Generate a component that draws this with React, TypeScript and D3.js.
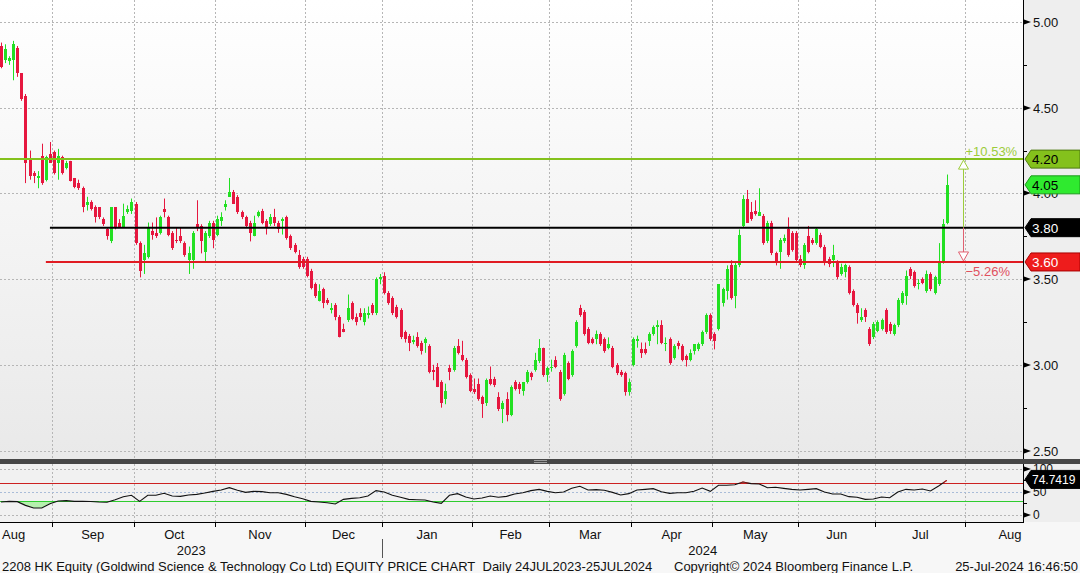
import { useRef, useEffect } from 'react'
import * as d3 from 'd3'

const WIDTH = 1080
const HEIGHT = 573
const AXIS_X = 1023
const PRICE_H = 459
const RSI_TOP = 464
const RSI_BOTTOM = 522
const FONT = '"Liberation Sans", Arial, sans-serif'

// HKEX sessions: first visible session + exchange holidays in the window
const FIRST_SESSION = '2023-08-15'
const HOLIDAYS = [
  '2023-09-29', '2023-10-02', '2023-10-23', '2023-12-25', '2023-12-26',
  '2024-01-01', '2024-02-12', '2024-02-13', '2024-03-29', '2024-04-01',
  '2024-04-04', '2024-05-01', '2024-05-15', '2024-06-10', '2024-07-01',
]
// visible window in sessions, relative to FIRST_SESSION
const VIEW = [-0.25, 250.7]

// daily OHLC, one entry per session from FIRST_SESSION to 25 Jul 2024
const OPEN = [
  4.86, 4.78, 4.77, 4.78, 4.85, 4.70, 4.57, 4.20, 4.12, 4.09, 4.22, 4.08, 4.23, 4.24, 4.18, 4.21, 4.15, 4.19, 4.09, 4.06,
  4.03, 3.93, 3.95, 3.92, 3.92, 3.85, 3.79, 3.72, 3.92, 3.83, 3.80, 3.89, 3.90, 3.94, 3.71, 3.61, 3.63, 3.78, 3.77, 3.77,
  3.91, 3.86, 3.77, 3.73, 3.75, 3.71, 3.61, 3.61, 3.82, 3.81, 3.66, 3.75, 3.83, 3.76, 3.84, 3.92, 3.98, 4.01, 3.98, 3.89,
  3.86, 3.83, 3.75, 3.87, 3.90, 3.84, 3.82, 3.86, 3.83, 3.84, 3.86, 3.75, 3.70, 3.64, 3.62, 3.62, 3.55, 3.47, 3.37, 3.44,
  3.38, 3.32, 3.35, 3.28, 3.21, 3.26, 3.36, 3.28, 3.30, 3.25, 3.29, 3.35, 3.30, 3.50, 3.52, 3.42, 3.39, 3.34, 3.32, 3.19,
  3.17, 3.135, 3.16, 3.13, 3.125, 3.11, 2.97, 2.99, 2.90, 2.80, 2.98, 2.97, 3.11, 3.06, 3.03, 2.94, 2.86, 2.89, 2.81, 2.78,
  2.92, 2.92, 2.81, 2.74, 2.80, 2.71, 2.90, 2.89, 2.85, 2.90, 2.95, 2.97, 3.02, 3.10, 2.94, 2.98, 3.03, 2.96, 2.83, 3.01,
  2.94, 3.11, 3.33, 3.31, 3.21, 3.15, 3.15, 3.18, 3.15, 3.10, 3.10, 3.00, 2.96, 2.95, 2.84, 3.00, 3.14, 3.09, 3.09, 3.14,
  3.18, 3.22, 3.23, 3.12, 3.15, 3.04, 3.13, 3.11, 3.05, 3.03, 3.08, 3.09, 3.12, 3.19, 3.29, 3.18, 3.21, 3.36, 3.43, 3.58,
  3.40, 3.58, 3.81, 3.97, 3.89, 3.90, 3.87, 3.87, 3.72, 3.83, 3.65, 3.66, 3.72, 3.79, 3.77, 3.77, 3.62, 3.58, 3.75, 3.73,
  3.71, 3.76, 3.69, 3.62, 3.61, 3.60, 3.53, 3.54, 3.57, 3.43, 3.35, 3.26, 3.32, 3.21, 3.16, 3.20, 3.21, 3.32, 3.24, 3.18,
  3.23, 3.36, 3.40, 3.56, 3.54, 3.47, 3.50, 3.43, 3.53, 3.42, 3.47, 3.60, 3.83,
]
const HIGH = [
  4.88, 4.87, 4.80, 4.89, 4.86, 4.70, 4.58, 4.25, 4.13, 4.13, 4.29, 4.22, 4.30, 4.25, 4.26, 4.22, 4.19, 4.19, 4.09, 4.08,
  4.04, 3.98, 3.96, 3.93, 3.92, 3.86, 3.80, 3.92, 3.92, 3.85, 3.94, 3.93, 3.97, 3.95, 3.72, 3.70, 3.83, 3.83, 3.86, 3.87,
  3.97, 3.87, 3.78, 3.80, 3.80, 3.72, 3.69, 3.78, 3.96, 3.82, 3.78, 3.84, 3.84, 3.87, 3.89, 3.96, 4.09, 4.02, 3.99, 3.90,
  3.87, 3.84, 3.87, 3.90, 3.91, 3.85, 3.88, 3.91, 3.84, 3.86, 3.87, 3.76, 3.71, 3.67, 3.63, 3.63, 3.56, 3.48, 3.47, 3.45,
  3.39, 3.36, 3.36, 3.29, 3.24, 3.41, 3.37, 3.30, 3.33, 3.33, 3.34, 3.36, 3.51, 3.53, 3.54, 3.43, 3.40, 3.35, 3.33, 3.20,
  3.18, 3.17, 3.19, 3.14, 3.16, 3.12, 3.00, 3.01, 2.91, 2.89, 3.00, 3.11, 3.15, 3.14, 3.04, 2.95, 2.92, 2.92, 2.82, 2.92,
  2.99, 2.93, 2.84, 2.79, 2.84, 2.88, 2.91, 2.90, 2.90, 2.97, 2.96, 3.07, 3.15, 3.10, 2.99, 3.03, 3.05, 2.97, 3.07, 3.02,
  3.09, 3.26, 3.35, 3.32, 3.22, 3.16, 3.20, 3.19, 3.16, 3.16, 3.11, 3.01, 2.97, 2.96, 2.92, 3.16, 3.17, 3.13, 3.13, 3.19,
  3.23, 3.26, 3.26, 3.16, 3.16, 3.12, 3.14, 3.12, 3.06, 3.09, 3.12, 3.13, 3.20, 3.30, 3.30, 3.19, 3.47, 3.45, 3.58, 3.61,
  3.60, 3.79, 3.99, 4.02, 3.95, 3.96, 4.03, 3.88, 3.84, 3.84, 3.66, 3.74, 3.76, 3.86, 3.78, 3.78, 3.64, 3.71, 3.81, 3.74,
  3.80, 3.77, 3.70, 3.63, 3.70, 3.61, 3.59, 3.59, 3.58, 3.44, 3.36, 3.33, 3.33, 3.22, 3.25, 3.26, 3.27, 3.33, 3.25, 3.24,
  3.39, 3.43, 3.55, 3.57, 3.55, 3.50, 3.51, 3.55, 3.54, 3.52, 3.71, 3.85, 4.11,
]
const LOW = [
  4.73, 4.76, 4.75, 4.66, 4.68, 4.54, 4.06, 4.08, 4.06, 4.03, 4.05, 4.07, 4.18, 4.11, 4.08, 4.11, 4.14, 4.07, 4.03, 4.02,
  3.89, 3.90, 3.90, 3.83, 3.85, 3.81, 3.73, 3.71, 3.79, 3.80, 3.80, 3.88, 3.88, 3.70, 3.51, 3.53, 3.62, 3.73, 3.74, 3.76,
  3.86, 3.75, 3.67, 3.71, 3.71, 3.63, 3.53, 3.56, 3.78, 3.65, 3.60, 3.74, 3.68, 3.75, 3.81, 3.90, 3.98, 3.94, 3.88, 3.85,
  3.80, 3.72, 3.75, 3.86, 3.82, 3.76, 3.81, 3.81, 3.77, 3.76, 3.73, 3.67, 3.65, 3.56, 3.56, 3.51, 3.44, 3.39, 3.37, 3.33,
  3.35, 3.30, 3.26, 3.16, 3.19, 3.25, 3.26, 3.23, 3.26, 3.23, 3.27, 3.29, 3.29, 3.47, 3.41, 3.35, 3.29, 3.27, 3.15, 3.13,
  3.08, 3.12, 3.10, 3.06, 3.07, 2.95, 2.91, 2.87, 2.75, 2.77, 2.91, 2.96, 3.06, 3.02, 2.92, 2.84, 2.83, 2.79, 2.69, 2.76,
  2.88, 2.87, 2.73, 2.66, 2.67, 2.70, 2.85, 2.83, 2.82, 2.89, 2.91, 2.96, 3.01, 2.93, 2.90, 2.96, 2.98, 2.79, 2.82, 2.91,
  2.93, 3.10, 3.28, 3.17, 3.12, 3.12, 3.12, 3.11, 3.07, 3.09, 2.98, 2.94, 2.93, 2.82, 2.82, 2.99, 3.10, 3.04, 3.06, 3.11,
  3.17, 3.12, 3.12, 3.08, 3.00, 3.03, 3.09, 3.02, 2.99, 3.02, 3.06, 3.08, 3.11, 3.18, 3.14, 3.09, 3.20, 3.34, 3.38, 3.38,
  3.33, 3.57, 3.80, 3.83, 3.84, 3.87, 3.87, 3.70, 3.71, 3.64, 3.58, 3.56, 3.71, 3.63, 3.66, 3.60, 3.57, 3.56, 3.65, 3.70,
  3.70, 3.68, 3.58, 3.57, 3.57, 3.50, 3.52, 3.51, 3.41, 3.34, 3.24, 3.25, 3.25, 3.11, 3.15, 3.19, 3.20, 3.18, 3.18, 3.17,
  3.22, 3.35, 3.35, 3.50, 3.45, 3.44, 3.47, 3.42, 3.43, 3.41, 3.46, 3.59, 3.82,
]
const CLOSE = [
  4.74, 4.84, 4.79, 4.87, 4.70, 4.55, 4.18, 4.10, 4.10, 4.10, 4.06, 4.21, 4.18, 4.12, 4.22, 4.12, 4.18, 4.07, 4.04, 4.03,
  3.92, 3.95, 3.91, 3.86, 3.86, 3.82, 3.75, 3.92, 3.80, 3.80, 3.87, 3.91, 3.95, 3.71, 3.55, 3.65, 3.80, 3.76, 3.75, 3.86,
  3.89, 3.76, 3.68, 3.72, 3.72, 3.64, 3.65, 3.77, 3.80, 3.72, 3.77, 3.83, 3.73, 3.85, 3.86, 3.94, 4.01, 3.94, 3.89, 3.86,
  3.81, 3.77, 3.83, 3.89, 3.83, 3.80, 3.86, 3.83, 3.79, 3.85, 3.74, 3.68, 3.66, 3.57, 3.57, 3.52, 3.45, 3.40, 3.43, 3.36,
  3.36, 3.33, 3.28, 3.16, 3.19, 3.33, 3.27, 3.25, 3.28, 3.30, 3.30, 3.30, 3.50, 3.51, 3.42, 3.36, 3.30, 3.28, 3.16, 3.15,
  3.13, 3.145, 3.11, 3.08, 3.15, 2.96, 2.96, 2.87, 2.78, 2.85, 2.96, 3.10, 3.07, 3.03, 2.93, 2.85, 2.84, 2.80, 2.77, 2.91,
  2.89, 2.88, 2.74, 2.78, 2.71, 2.87, 2.86, 2.86, 2.90, 2.96, 2.93, 3.03, 3.10, 2.94, 2.98, 2.99, 2.99, 2.80, 3.06, 2.92,
  3.08, 3.25, 3.29, 3.18, 3.13, 3.13, 3.18, 3.12, 3.08, 3.12, 2.99, 2.95, 2.94, 2.84, 2.90, 3.15, 3.15, 3.07, 3.07, 3.18,
  3.22, 3.23, 3.13, 3.13, 3.01, 3.11, 3.11, 3.03, 3.03, 3.07, 3.12, 3.12, 3.19, 3.29, 3.15, 3.14, 3.47, 3.44, 3.56, 3.39,
  3.58, 3.76, 3.97, 3.83, 3.85, 3.88, 3.89, 3.71, 3.83, 3.65, 3.60, 3.73, 3.74, 3.64, 3.67, 3.61, 3.58, 3.70, 3.66, 3.71,
  3.79, 3.69, 3.60, 3.59, 3.64, 3.51, 3.57, 3.58, 3.42, 3.35, 3.30, 3.28, 3.28, 3.12, 3.24, 3.25, 3.26, 3.19, 3.20, 3.23,
  3.38, 3.42, 3.52, 3.52, 3.46, 3.48, 3.48, 3.53, 3.44, 3.51, 3.60, 3.82, 4.05,
]

// RSI (14), one reading every RSI_STEP sessions
const RSI_STEP = 2
const RSI = [
  28, 29.5, 28.8, 20.8, 15.1, 15.1, 24.5, 30.2, 31, 29.5, 29.5, 29, 28, 27.5, 33.1, 39.6, 42.5, 29.5, 42.5, 42.5,
  46.8, 41, 40.3, 43.2, 44.6, 47.5, 51.1, 54, 59, 53.3, 48.9, 51.1, 50.4, 48.2, 48.2, 44.6, 39.6, 35.3, 29.5, 28.1,
  26.6, 23.8, 33.8, 36, 37.4, 41, 52.6, 49.7, 42.5, 38.2, 33.8, 33.1, 32.4, 28.1, 25.2, 42.5, 46.1, 38.9, 34.6, 36.7,
  41, 38.2, 40.3, 45.3, 48.2, 52.6, 55.4, 51.1, 48.2, 49.7, 57.6, 61.9, 54, 54.7, 53.3, 48.9, 43.2, 46.1, 54, 55.4,
  56.9, 50.4, 46.8, 48.2, 48.2, 51.1, 58.3, 51.1, 64.1, 64.1, 65.5, 71.3, 67.7, 67, 59, 59.8, 57.6, 55.4, 54, 55.4,
  56.9, 49.7, 45.3, 45.3, 39.6, 38.2, 33.8, 34.6, 38.9, 37.4, 49.7, 55.4, 54, 56.2, 51.8, 62.6, 74.7419,
]
const RSI_OVERSOLD = 30
const RSI_OVERBOUGHT = 70

const PRICE_TICKS = [2.5, 3, 3.5, 4, 4.5, 5]
const PRICE_MINOR = [2.75, 3.25, 3.75, 4.25, 4.75]
const RSI_TICKS = [0, 50, 100]

// drawn levels
const LEVEL_HIGH = 4.2
const LEVEL_REF = 3.8
const LEVEL_LOW = 3.6
const LEVEL_REF_FROM = '2023-08-31'
const LEVEL_LOW_FROM = '2023-08-30'
const TARGET_SESSION = '2024-07-31'

const FOOTER_LEFT = '2208 HK Equity (Goldwind Science & Technology Co Ltd) EQUITY PRICE CHART\u00a0 Daily 24JUL2023-25JUL2024'
const FOOTER_MID = 'Copyright\u00a9 2024 Bloomberg Finance L.P.'
const FOOTER_RIGHT = '25-Jul-2024 16:46:50'

const UP = '#22e022'
const DOWN = '#e6173f'
const LIME = '#84c11c'
const RED = '#e01b22'

export default function App() {
  const svgRef = useRef<SVGSVGElement>(null)

  useEffect(() => {
    if (!svgRef.current) return
    const svg = d3.select(svgRef.current)
    svg.selectAll('*').remove()

    const fmt = d3.timeFormat('%Y-%m-%d')
    const hol = new Set(HOLIDAYS)
    const sessions = d3.timeDay
      .range(new Date(2023, 7, 1), new Date(2024, 9, 1))
      .filter((d) => d.getDay() % 6 !== 0 && !hol.has(fmt(d)))
    const base = sessions.findIndex((d) => fmt(d) === FIRST_SESSION)
    const idxOf = (s: string) => sessions.findIndex((d) => fmt(d) === s) - base

    const x = d3.scaleLinear().domain(VIEW).range([0, AXIS_X])
    const y = d3.scaleLinear().domain([2.5, 5]).range([450.5, 22])
    const yr = d3.scaleLinear().domain([0, 100]).range([515, 468.7])

    const months = d3.timeMonth.range(new Date(2023, 7, 1), new Date(2024, 9, 1))
    const bounds = months.map((m) => ({ m, i: sessions.findIndex((d) => d >= m) - base - 0.5 }))
    const px = (v: number) => Math.round(v) + 0.5

    // ---- defs
    const defs = svg.append('defs')
    const grad = defs.append('linearGradient').attr('id', 'pbg').attr('x1', 0).attr('x2', 0).attr('y1', 0).attr('y2', 1)
    grad.append('stop').attr('offset', '0%').attr('stop-color', '#ffffff')
    grad.append('stop').attr('offset', '100%').attr('stop-color', '#e9e9e9')
    defs.append('clipPath').attr('id', 'pclip')
      .append('rect').attr('width', AXIS_X).attr('height', PRICE_H)
    defs.append('clipPath').attr('id', 'rlow')
      .append('rect').attr('y', yr(RSI_OVERSOLD)).attr('width', AXIS_X).attr('height', RSI_BOTTOM - yr(RSI_OVERSOLD))
    defs.append('clipPath').attr('id', 'rhigh')
      .append('rect').attr('y', RSI_TOP).attr('width', AXIS_X).attr('height', yr(RSI_OVERBOUGHT) - RSI_TOP)

    // ---- backgrounds
    svg.append('rect').attr('width', WIDTH).attr('height', HEIGHT).attr('fill', '#f7f7f7')
    svg.append('rect').attr('width', AXIS_X).attr('height', PRICE_H).attr('fill', 'url(#pbg)')
    svg.append('rect').attr('x', AXIS_X).attr('width', WIDTH - AXIS_X).attr('height', RSI_BOTTOM).attr('fill', '#eeeeee')
    svg.append('rect').attr('y', RSI_TOP).attr('width', AXIS_X).attr('height', RSI_BOTTOM - RSI_TOP).attr('fill', '#f1f1f1')
    svg.append('rect').attr('y', PRICE_H).attr('width', WIDTH).attr('height', RSI_TOP - PRICE_H).attr('fill', '#474747')
    svg.append('g').selectAll('line').data([0, 2]).join('line')
      .attr('x1', 534).attr('x2', 547).attr('y1', (d) => PRICE_H + 1.5 + d).attr('y2', (d) => PRICE_H + 1.5 + d)
      .attr('stroke', '#9a9a9a')

    // ---- grid
    const grid = svg.append('g').attr('stroke', '#b6b6b6').attr('stroke-dasharray', '2,2').attr('fill', 'none')
    PRICE_TICKS.forEach((t) => {
      grid.append('line').attr('x1', 0).attr('x2', AXIS_X).attr('y1', px(y(t))).attr('y2', px(y(t)))
    })
    const visBounds = bounds.filter((b) => x(b.i) > 0 && x(b.i) < AXIS_X)
    visBounds.forEach((b) => {
      const xx = px(x(b.i))
      grid.append('line').attr('x1', xx).attr('x2', xx).attr('y1', 0).attr('y2', PRICE_H)
      grid.append('line').attr('x1', xx).attr('x2', xx).attr('y1', RSI_TOP).attr('y2', RSI_BOTTOM)
    })
    RSI_TICKS.forEach((t) => {
      grid.append('line').attr('x1', 0).attr('x2', AXIS_X).attr('y1', px(yr(t))).attr('y2', px(yr(t)))
        .attr('stroke', t === 50 ? '#a9bcd8' : '#b6b6b6')
    })

    // ---- candles
    const candles = svg.append('g').attr('clip-path', 'url(#pclip)')
    CLOSE.forEach((c, i) => {
      const o = OPEN[i]
      const cx = Math.round(x(i))
      const col = c >= o ? UP : DOWN
      candles.append('line')
        .attr('x1', cx + 0.5).attr('x2', cx + 0.5)
        .attr('y1', y(HIGH[i])).attr('y2', y(LOW[i]))
        .attr('stroke', col).attr('stroke-width', 1)
      const top = Math.round(y(Math.max(o, c)))
      const bot = Math.round(y(Math.min(o, c)))
      candles.append('rect')
        .attr('x', cx - 1).attr('width', 3)
        .attr('y', top).attr('height', Math.max(1, bot - top))
        .attr('fill', col)
    })

    // ---- levels
    const lv = svg.append('g').attr('clip-path', 'url(#pclip)')
    lv.append('line').attr('x1', x(VIEW[0])).attr('x2', AXIS_X).attr('y1', y(LEVEL_HIGH)).attr('y2', y(LEVEL_HIGH))
      .attr('stroke', LIME).attr('stroke-width', 2)
    lv.append('line').attr('x1', x(idxOf(LEVEL_REF_FROM))).attr('x2', AXIS_X).attr('y1', y(LEVEL_REF)).attr('y2', y(LEVEL_REF))
      .attr('stroke', '#000').attr('stroke-width', 2)
    lv.append('line').attr('x1', x(idxOf(LEVEL_LOW_FROM))).attr('x2', AXIS_X).attr('y1', y(LEVEL_LOW)).attr('y2', y(LEVEL_LOW))
      .attr('stroke', RED).attr('stroke-width', 2)

    // ---- target arrows from the reference level
    const ax = px(x(idxOf(TARGET_SESSION)))
    lv.append('line').attr('x1', ax).attr('x2', ax).attr('y1', y(LEVEL_REF)).attr('y2', y(LEVEL_HIGH) + 9)
      .attr('stroke', '#9ccc3a').attr('stroke-width', 1)
    lv.append('path')
      .attr('d', `M${ax},${y(LEVEL_HIGH) + 1} L${ax + 5},${y(LEVEL_HIGH) + 10} L${ax - 5},${y(LEVEL_HIGH) + 10} Z`)
      .attr('fill', '#ffffff').attr('stroke', '#9ccc3a')
    lv.append('line').attr('x1', ax).attr('x2', ax).attr('y1', y(LEVEL_REF)).attr('y2', y(LEVEL_LOW) - 9)
      .attr('stroke', '#e06070').attr('stroke-width', 1)
    lv.append('path')
      .attr('d', `M${ax},${y(LEVEL_LOW) - 1} L${ax + 5},${y(LEVEL_LOW) - 10} L${ax - 5},${y(LEVEL_LOW) - 10} Z`)
      .attr('fill', '#ffffff').attr('stroke', '#e06070')
    const pct = d3.format('+.2%')
    svg.append('text').attr('x', ax + 2).attr('y', y(LEVEL_HIGH) - 3)
      .attr('font-family', FONT).attr('font-size', 13).attr('fill', '#9ccc3a')
      .text(pct(LEVEL_HIGH / LEVEL_REF - 1))
    svg.append('text').attr('x', ax + 2).attr('y', y(LEVEL_LOW) + 14)
      .attr('font-family', FONT).attr('font-size', 13).attr('fill', '#e0505e')
      .text(d3.format('.2%')(LEVEL_LOW / LEVEL_REF - 1))

    // ---- RSI panel
    const rsiLine = d3.line<number>().x((_, k) => x(k * RSI_STEP)).y((v) => yr(v))
    const rsiArea = d3.area<number>().x((_, k) => x(k * RSI_STEP)).y0(yr(RSI_OVERSOLD)).y1((v) => yr(v))
    svg.append('path').attr('d', rsiArea(RSI)).attr('fill', '#b6f0ae').attr('clip-path', 'url(#rlow)')
    svg.append('line').attr('x1', 0).attr('x2', AXIS_X).attr('y1', px(yr(RSI_OVERBOUGHT))).attr('y2', px(yr(RSI_OVERBOUGHT)))
      .attr('stroke', '#cc2020')
    svg.append('line').attr('x1', 0).attr('x2', AXIS_X).attr('y1', px(yr(RSI_OVERSOLD))).attr('y2', px(yr(RSI_OVERSOLD)))
      .attr('stroke', '#2fcc2f')
    svg.append('path').attr('d', rsiLine(RSI)).attr('fill', 'none').attr('stroke', '#111').attr('stroke-width', 1.1)
    svg.append('path').attr('d', rsiLine(RSI)).attr('fill', 'none').attr('stroke', '#d02020').attr('stroke-width', 1.1)
      .attr('clip-path', 'url(#rhigh)')

    // ---- right axis
    const axis = svg.append('g').attr('font-family', FONT)
    axis.append('line').attr('x1', AXIS_X + 0.5).attr('x2', AXIS_X + 0.5).attr('y1', 0).attr('y2', PRICE_H).attr('stroke', '#000')
    axis.append('line').attr('x1', AXIS_X + 0.5).attr('x2', AXIS_X + 0.5).attr('y1', RSI_TOP).attr('y2', RSI_BOTTOM).attr('stroke', '#000')
    const pointer = (yy: number, fs: number, label: string) => {
      axis.append('path')
        .attr('d', `M${AXIS_X + 1},${yy - 2.5} L${AXIS_X + 8},${yy} L${AXIS_X + 1},${yy + 2.5} Z`)
        .attr('fill', '#000')
      axis.append('text').attr('x', AXIS_X + 10).attr('y', yy).attr('dy', '0.36em')
        .attr('font-size', fs).attr('fill', '#111').text(label)
    }
    PRICE_TICKS.forEach((t) => pointer(Math.round(y(t)), 13, d3.format('.2f')(t)))
    PRICE_MINOR.forEach((t) => {
      axis.append('line').attr('x1', AXIS_X).attr('x2', AXIS_X + 4)
        .attr('y1', px(y(t))).attr('y2', px(y(t))).attr('stroke', '#000')
    })
    RSI_TICKS.forEach((t) => pointer(Math.round(yr(t)), 12, String(t)))
    axis.append('line').attr('x1', AXIS_X).attr('x2', AXIS_X + 4)
      .attr('y1', px(yr(25))).attr('y2', px(yr(25))).attr('stroke', '#000')
    axis.append('line').attr('x1', AXIS_X).attr('x2', AXIS_X + 4)
      .attr('y1', px(yr(75))).attr('y2', px(yr(75))).attr('stroke', '#000')

    // ---- callouts
    const callout = (cy: number, fill: string, edge: string, label: string, ink: string, fs = 13.5) => {
      const g = svg.append('g')
      g.append('path')
        .attr('d', `M${AXIS_X + 2},${cy} L${AXIS_X + 8},${cy - 9} L${WIDTH},${cy - 9} L${WIDTH},${cy + 9} L${AXIS_X + 8},${cy + 9} Z`)
        .attr('fill', fill).attr('stroke', edge)
      g.append('text').attr('x', AXIS_X + 9).attr('y', cy).attr('dy', '0.37em')
        .attr('font-family', FONT).attr('font-size', fs).attr('fill', ink).text(label)
    }
    const last = CLOSE[CLOSE.length - 1]
    callout(y(LEVEL_HIGH), LIME, '#4f7a10', d3.format('.2f')(LEVEL_HIGH), '#000')
    callout(y(last), '#2fea2f', '#1c9a1c', d3.format('.2f')(last), '#000')
    callout(y(LEVEL_REF), '#000', '#000', d3.format('.2f')(LEVEL_REF), '#fff')
    callout(y(LEVEL_LOW), '#ee1c1c', '#a00', d3.format('.2f')(LEVEL_LOW), '#fff')
    callout(yr(RSI[RSI.length - 1]) - 1, '#000', '#000', d3.format('.4f')(RSI[RSI.length - 1]), '#fff', 12)

    // ---- bottom axis
    const bx = svg.append('g').attr('font-family', FONT)
    bx.append('line').attr('x1', 0).attr('x2', AXIS_X + 1).attr('y1', RSI_BOTTOM + 0.5).attr('y2', RSI_BOTTOM + 0.5).attr('stroke', '#000')
    visBounds.forEach((b) => {
      const xx = px(x(b.i))
      bx.append('line').attr('x1', xx).attr('x2', xx).attr('y1', RSI_BOTTOM).attr('y2', RSI_BOTTOM + 5).attr('stroke', '#000')
    })
    const monthFmt = d3.timeFormat('%b')
    bounds.slice(0, -1).forEach((b, k) => {
      const mid = x((b.i + bounds[k + 1].i) / 2)
      if (mid > AXIS_X) return
      const t = bx.append('text').attr('y', 539).attr('font-size', 13).attr('fill', '#111')
        .attr('text-anchor', 'middle').text(monthFmt(b.m))
      const half = (t.node() as SVGTextElement).getComputedTextLength() / 2
      t.attr('x', Math.max(mid, half + 2))
    })
    const jan = bounds.find((b) => b.m.getMonth() === 0 && b.m.getFullYear() === 2024)!
    const jx = px(x(jan.i))
    bx.append('line').attr('x1', jx).attr('x2', jx).attr('y1', 539).attr('y2', 558).attr('stroke', '#555')
    bx.append('text').attr('x', jx / 2).attr('y', 555).attr('text-anchor', 'middle').attr('font-size', 13).attr('fill', '#111').text('2023')
    bx.append('text').attr('x', (jx + AXIS_X) / 2).attr('y', 555).attr('text-anchor', 'middle').attr('font-size', 13).attr('fill', '#111').text('2024')

    // ---- footer
    const ft = svg.append('g').attr('font-family', FONT).attr('font-size', 13).attr('fill', '#111')
    ft.append('text').attr('x', 2).attr('y', 571).text(FOOTER_LEFT)
    ft.append('text').attr('x', 674).attr('y', 571).text(FOOTER_MID)
    ft.append('text').attr('x', 1078).attr('y', 571).attr('text-anchor', 'end').text(FOOTER_RIGHT)
  }, [])

  return (
    <svg
      ref={svgRef}
      width={WIDTH}
      height={HEIGHT}
      style={{ position: 'absolute', left: 0, top: 0, display: 'block' }}
    />
  )
}
